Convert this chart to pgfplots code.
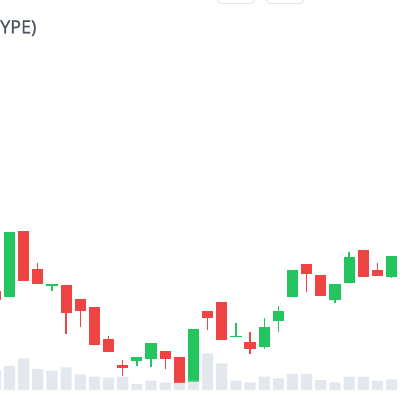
\documentclass[border=0pt]{standalone}
\usepackage{pgfplots}
\pgfplotsset{compat=1.18}
\usepackage{pgfplotstable}
\usepackage{fontspec}
\setmainfont{Open Sans}
\newfontfamily\titlefont[FakeBold=0.9]{Open Sans}
\definecolor{cgreen}{HTML}{22C55E}
\definecolor{cred}{HTML}{EF4444}
\definecolor{cvol}{HTML}{C8D0DE}
\definecolor{ctext}{HTML}{4B5260}
\definecolor{cbtn}{HTML}{E3E5E9}

% green candles: index open high low close
\pgfplotstableread{
i o h l c
1 92.7 157.7 92.7 157.7
4 103.7 106.3 99.3 106.3
10 29 33.3 24 33.3
11 30.7 46.7 23.3 46.7
14 8.3 60.7 8.3 60.7
17 53 67.3 53 54.3
19 42.7 71.7 40.7 63.3
20 69.3 84 58.3 79.3
21 92.7 120 92.7 120
24 90 105.7 86.7 105.7
25 106.7 137.7 106.7 133.3
28 113.3 134.3 111.7 134.3
}\greentab

% red candles: index open high low close
\pgfplotstableread{
i o h l c
0 99 99 90 90
2 159 159 109 109
3 121.3 126.7 106 106
5 105 105 56 77.3
6 91 91 63.3 79
7 83.3 83.3 45 45
8 50.7 54 38 38
9 25 30 14 21.7
12 39 39 20.7 31
13 33.3 33.3 6.7 6.7
15 79.3 79.3 60 71.7
16 87.7 87.7 50 50
18 48.3 57.7 35.7 40.7
22 125.7 125.7 97.7 115.7
23 114.7 114.7 94 94
26 140 140 112.7 112.7
27 120 127.3 114.3 114.3
29 135 135 113 113
}\redtab

% volume
\pgfplotstableread{
i v
0 20
1 24
2 31.7
3 21
4 19.3
5 22.7
6 15.7
7 13.3
8 12.3
9 13.3
10 6
11 9.3
12 7.7
13 7.3
14 9.3
15 36.7
16 26.7
17 9.3
18 7.7
19 13.3
20 11.7
21 16
22 16
23 10
24 7.7
25 13.3
26 13.3
27 9.3
28 10.7
29 12
}\voltab

\begin{document}
\begin{tikzpicture}
\path[use as bounding box] (0,0) rectangle (400bp,400bp);
\clip (0,0) rectangle (400bp,400bp);
\begin{axis}[
  at={(0,0)}, anchor=south west,
  scale only axis, width=400bp, height=400bp,
  xmin=0.32862, xmax=28.5972,
  ymin=-10, ymax=390,
  hide axis,
]
% wicks
\addplot[draw=none, mark=none, forget plot,
  error bars/.cd, y dir=minus, y explicit, error mark=none,
  error bar style={draw=cgreen, line width=1.3bp}]
  table[x=i, y=h, y error minus expr=\thisrow{h}-\thisrow{l}] {\greentab};
\addplot[draw=none, mark=none, forget plot,
  error bars/.cd, y dir=minus, y explicit, error mark=none,
  error bar style={draw=cred, line width=1.3bp}]
  table[x=i, y=h, y error minus expr=\thisrow{h}-\thisrow{l}] {\redtab};
% bodies
\addplot[draw=none, mark=none, forget plot,
  error bars/.cd, y dir=minus, y explicit, error mark=none,
  error bar style={draw=cgreen, line width=11.2bp}]
  table[x=i, y=c, y error minus expr=\thisrow{c}-\thisrow{o}] {\greentab};
\addplot[draw=none, mark=none, forget plot,
  error bars/.cd, y dir=minus, y explicit, error mark=none,
  error bar style={draw=cred, line width=11.2bp}]
  table[x=i, y=o, y error minus expr=\thisrow{o}-\thisrow{c}] {\redtab};
% volume
\addplot[ybar, bar width=11.2bp, bar shift=0pt, fill=cvol, fill opacity=0.5, draw=none, forget plot]
  table[x=i, y=v] {\voltab};
\end{axis}
\node[anchor=base west, inner sep=0pt, text=ctext,
  font=\titlefont\fontsize{18bp}{21bp}\selectfont] at (0bp,366.7bp) {YPE)};
\draw[cbtn, line width=1bp, rounded corners=5bp] (217bp,396.3bp) rectangle (255bp,430bp);
\draw[cbtn, line width=1bp, rounded corners=5bp] (266bp,396.3bp) rectangle (304bp,430bp);
\end{tikzpicture}
\end{document}
